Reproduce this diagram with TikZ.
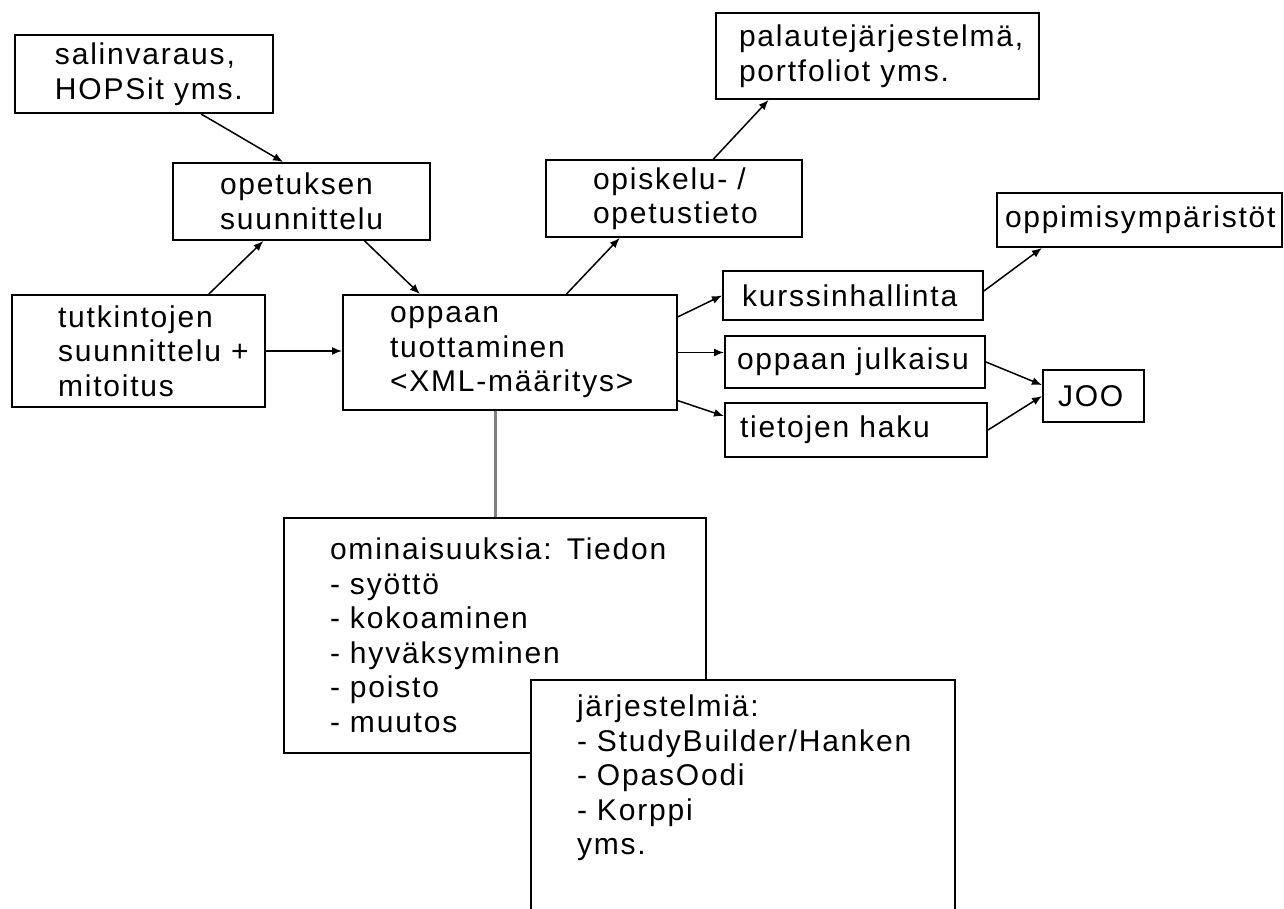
\documentclass[tikz,border=0pt]{standalone}
\usepackage{fontspec}
\newfontfamily\kaaviofontti[LetterSpace=6]{Liberation Sans}
\usetikzlibrary{arrows.meta}

\begin{document}
\begin{tikzpicture}[x=0.5pt,y=-0.5pt,>={Latex[length=5pt,width=4pt]}]

\tikzset{
	laatikko/.style={draw,line width=1pt,fill=white,inner xsep=0pt,align=left,
		font=\kaaviofontti\fontsize{15}{17.25}\selectfont},
	nuoli/.style={->,line width=0.75pt},
	yhdysviiva/.style={draw=gray,line width=1.5pt}
}

\def\yks{0.5pt}

% nimi, x1, y1, x2, y2, vasen marginaali, teksti
\def\laatikko#1#2#3#4#5#6#7{
	\pgfmathsetlengthmacro\leveys{(#4-#2)*\yks}
	\pgfmathsetlengthmacro\korkeus{(#5-#3)*\yks}
	\pgfmathsetlengthmacro\vasen{#6*\yks}
	\node[laatikko,minimum width=\leveys,minimum height=\korkeus,text width=\leveys]
		(#1) at ({(#2+#4)/2},{(#3+#5)/2}) {\leftskip=\vasen\relax #7\par};
}

\useasboundingbox (0,0) rectangle (1284,909);

\laatikko{sali}{15}{35}{273}{113}{40}{salinvaraus,\\HOPSit yms.}
\laatikko{opet}{173}{163}{430}{240}{47}{opetuksen\\suunnittelu}
\laatikko{tutk}{12}{295}{265}{407}{46}{tutkintojen\\suunnittelu +\\mitoitus}
\laatikko{oppaan}{343}{295}{677}{410}{47}{oppaan\\tuottaminen\\<XML-määritys>}
\laatikko{opisk}{546}{160}{802}{237}{47}{opiskelu- /\\opetustieto}
\laatikko{palaute}{716}{13}{1039}{99}{23}{palautejärjestelmä,\\portfoliot yms.}
\laatikko{oppim}{997}{193}{1282}{247}{8}{oppimisympäristöt}
\laatikko{kurs}{723}{271}{983}{320}{19}{kurssinhallinta}
\laatikko{julk}{725}{336}{985}{388}{12}{oppaan julkaisu}
\laatikko{tiet}{725}{403}{987}{457}{15}{tietojen haku}
\laatikko{joo}{1043}{370}{1144}{422}{15}{JOO}
\laatikko{omin}{284}{518}{706}{753}{46}{ominaisuuksia: Tiedon\\- syöttö\\- kokoaminen\\- hyväksyminen\\- poisto\\- muutos}

% alempi laatikko jatkuu kuvan alareunan yli
\node[laatikko,anchor=north west,minimum width=212pt,text width=212pt,
	inner ysep=7.5pt,text depth=200pt] (jarj) at (530,679)
	{\leftskip=23pt\relax järjestelmiä:\\- StudyBuilder/Hanken\\- OpasOodi\\- Korppi\\yms.\par};

\draw[nuoli] (sali.-35) -- (opet.115);
\draw[nuoli] (tutk.39) -- (opet.-134);
\draw[nuoli] (opet.-32.5) -- (oppaan.147);
\draw[nuoli] (tutk.east) -- (tutk.east -| oppaan.west);
\draw[nuoli] (oppaan.46) -- (opisk.-144);
\draw[nuoli] (opisk.45) -- (palaute.-158);

\draw[nuoli] (oppaan.12) -- (kurs.west);
\draw[nuoli] (oppaan.east) -- (oppaan.east -| julk.west);
\draw[nuoli] (oppaan.-16.5) -- (tiet.174);
\draw[nuoli] (kurs.2) -- (oppim.-164);
\draw[nuoli] (julk.east) -- (joo.168);
\draw[nuoli] (tiet.east) -- (joo.west);

\draw[yhdysviiva] (omin.north) -- (omin.north |- oppaan.south);

\end{tikzpicture}
\end{document}
